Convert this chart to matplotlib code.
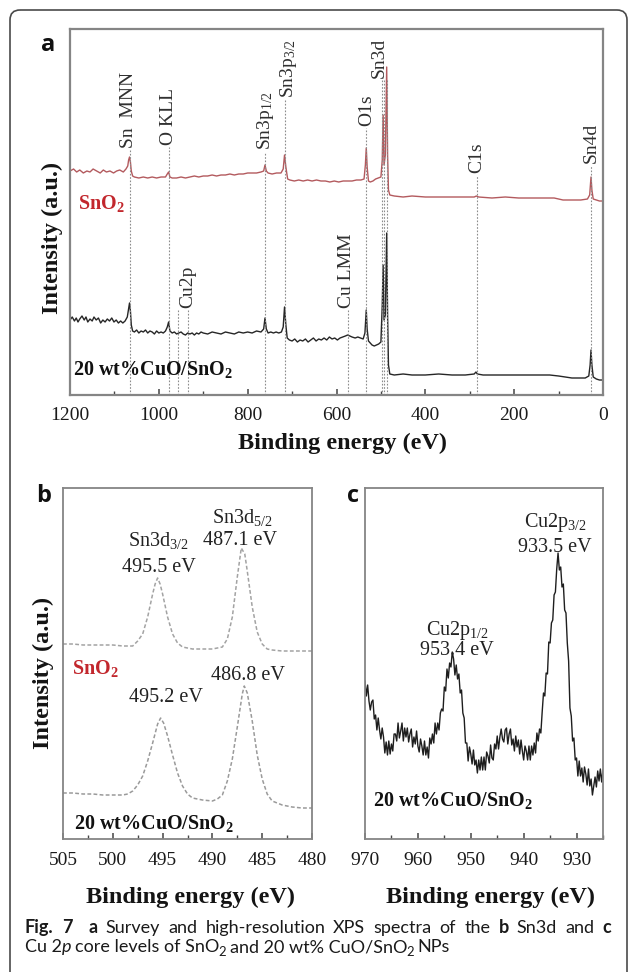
import numpy as np
import matplotlib
matplotlib.use("Agg")
import matplotlib.pyplot as plt
from matplotlib.patches import FancyBboxPatch
from matplotlib.ticker import MultipleLocator

plt.rcParams["font.family"] = ["Liberation Serif", "DejaVu Serif"]
plt.rcParams["mathtext.fontset"] = "custom"
plt.rcParams["mathtext.rm"] = "Liberation Serif"
plt.rcParams["mathtext.it"] = "Liberation Serif:italic"
plt.rcParams["mathtext.bf"] = "Liberation Serif:bold"

# ---------------- survey spectra (panel a) ----------------
survey_e_sno2 = [1200, 1192, 1185, 1178, 1170, 1162, 1155, 1148, 1140, 1132, 1125, 1118, 1110,
                 1102, 1095, 1088, 1080, 1074, 1070, 1068, 1066, 1064, 1062, 1059, 1055, 1045,
                 1035, 1025, 1015, 1005, 995, 985, 981, 978, 975, 970, 960, 950, 940, 930, 920,
                 910, 900, 890, 880, 870, 860, 850, 840, 830, 820, 810, 800, 790, 780, 770, 764,
                 761, 758, 754, 745, 735, 725, 720, 717, 714, 710, 705, 695, 685, 675, 665, 655,
                 645, 635, 625, 615, 605, 595, 585, 575, 565, 555, 545, 538, 535, 533, 531, 528,
                 524, 518, 512, 506, 500, 497, 495, 493, 490, 487, 485, 483, 480, 470, 450, 430,
                 400, 370, 340, 310, 290, 285, 280, 250, 220, 190, 160, 130, 110, 100, 90, 70,
                 50, 35, 30, 27, 25, 22, 15, 8, 0]
survey_i_sno2 = [224, 226, 223, 225, 222, 224, 223, 226, 224, 222, 225, 223, 224,
                 222, 224, 225, 223, 226, 229, 235, 238, 233, 224, 219, 218, 217,
                 218, 217, 218, 217, 218, 218, 221, 223, 218, 217, 217, 218, 217, 218, 219,
                 218, 219, 219, 220, 219, 220, 220, 221, 220, 221, 221, 222, 222, 222, 223, 224,
                 230, 224, 222, 221, 222, 222, 226, 240, 228, 216, 215, 214, 215, 214, 215, 214,
                 215, 214, 214, 213, 214, 213, 214, 214, 214, 215, 215, 216, 230, 247, 228, 214,
                 213, 214, 216, 217, 218, 235, 280, 230, 240, 328, 240, 205, 200, 199, 198, 199,
                 198, 198, 198, 198, 198, 199, 198, 197, 198, 197, 197, 197, 197, 196, 195, 195,
                 195, 196, 200, 218, 205, 196, 195, 194, 194]

survey_e_cuo = [1200, 1195, 1190, 1186, 1182, 1178, 1173, 1168, 1164, 1160, 1155, 1150, 1146,
                1141, 1136, 1131, 1126, 1121, 1116, 1111, 1106, 1101, 1096, 1091, 1086, 1081,
                1076, 1071, 1068, 1066, 1064, 1062, 1059, 1055, 1050, 1045, 1040, 1035, 1030,
                1025, 1020, 1015, 1010, 1005, 1000, 995, 990, 985, 981, 978, 975, 970, 965, 960,
                955, 950, 945, 940, 935, 930, 925, 920, 915, 910, 905, 900, 890, 880, 870, 860,
                850, 840, 830, 820, 810, 800, 790, 780, 770, 764, 761, 758, 754, 748, 742, 736,
                730, 724, 720, 717, 714, 711, 706, 700, 694, 688, 682, 676, 670, 664, 658, 652,
                646, 640, 634, 628, 622, 616, 610, 604, 598, 592, 586, 580, 575, 570, 565, 558,
                552, 546, 540, 536, 533, 531, 528, 524, 520, 515, 510, 505, 500, 497, 495, 493,
                490, 487, 485, 483, 480, 470, 450, 430, 400, 370, 340, 310, 290, 286, 283, 270,
                240, 210, 180, 150, 120, 100, 85, 70, 55, 40, 32, 29, 27, 25, 22, 15, 8, 0]
survey_i_cuo = [75, 78, 74, 77, 73, 76, 79, 75, 78, 73, 76, 74, 78,
                75, 77, 72, 75, 73, 76, 74, 77, 73, 75, 72, 74, 72,
                74, 78, 86, 92, 84, 70, 64, 63, 65, 62, 64, 63, 65,
                62, 64, 63, 61, 64, 62, 63, 62, 64, 68, 73, 64, 62, 63, 61,
                62, 63, 61, 60, 62, 61, 62, 60, 62, 61, 63, 62, 61, 63, 62, 61,
                63, 62, 61, 63, 62, 63, 62, 64, 63, 66, 77, 66, 62, 63, 62, 63,
                62, 63, 68, 88, 70, 57, 55, 54, 56, 53, 55, 54, 56, 53, 55, 57,
                54, 56, 55, 57, 55, 58, 56, 57, 55, 57, 58, 59, 60, 59, 58, 57,
                58, 57, 56, 62, 85, 66, 54, 52, 50, 49, 50, 51, 53, 90, 130, 75,
                80, 162, 80, 30, 21, 20, 21, 20, 20, 21, 20, 20, 21, 23, 21, 20,
                20, 20, 20, 20, 20, 19, 18, 17, 17, 17, 19, 30, 45, 30, 18, 16, 15, 15]

# peak assignments: label, label energy, label bottom (intensity units)
peak_names = ["Sn  MNN", "O KLL", r"Sn3p$_{1/2}$", r"Sn3p$_{3/2}$", "O1s", "Sn3d",
              "C1s", "Sn4d", "Cu2p", "Cu LMM"]
peak_label_e = [1068, 978, 760, 708, 533, 503, 284, 26, 934, 577]
peak_label_i = [245, 248, 243, 295, 267, 315, 220, 230, 85, 85]
guide_e = [1066, 978, 957, 934, 760, 716, 573, 533, 498, 492, 487, 284, 26]
guide_top = [245, 248, 85, 85, 243, 295, 85, 267, 315, 315, 315, 220, 230]

# ---------------- Sn3d region (panel b) ----------------
sn3d_e = [505, 504, 503, 502, 501, 500, 499, 498, 497.5, 497, 496.5, 496, 495.75, 495.5,
          495.25, 495, 494.5, 494, 493.5, 493, 492, 491, 490, 489, 488.5, 488, 487.5, 487.1,
          486.75, 486.5, 486, 485.5, 485, 484.5, 484, 483, 482, 481, 480]
sn3d_sno2 = [195, 195, 194, 194, 194, 194, 193, 193, 198, 205, 222, 245, 255, 261,
             255, 245, 222, 205, 196, 192, 190, 190, 190, 192, 200, 222, 262, 291,
             285, 268, 232, 207, 195, 190, 189, 188, 188, 188, 188]
sn3d_e_cuo = [505, 504, 503, 502, 501, 500, 499, 498.5, 498, 497.5, 497, 496.5, 496, 495.5,
              495.2, 494.9, 494.5, 494, 493.5, 493, 492.5, 492, 491, 490, 489.5, 489, 488.5,
              488, 487.5, 487, 486.8, 486.5, 486, 485.5, 485, 484.5, 484, 483, 482, 481, 480]
sn3d_cuo = [46, 46, 45, 45, 44, 44, 44, 45, 48, 54, 63, 78, 96, 115,
            121, 116, 103, 84, 66, 53, 45, 41, 39, 38, 40, 44, 58,
            80, 112, 145, 153, 146, 118, 84, 60, 45, 38, 34, 32, 31, 31]

# ---------------- Cu2p region (panel c) ----------------
cu2p_e = np.linspace(970, 925, 181)
cu2p_i = [158, 143, 154, 138, 129, 137, 139, 120, 124, 109, 121, 109, 100, 111, 102, 86, 97, 84,
          98, 85, 95, 88, 105, 105, 98, 116, 101, 108, 116, 98, 111, 102, 111, 97, 105, 110,
          92, 102, 95, 108, 93, 87, 100, 93, 84, 98, 84, 92, 81, 101, 95, 105, 96, 116,
          105, 116, 109, 126, 130, 128, 152, 148, 170, 161, 176, 172, 187, 180, 164, 174, 160, 165,
          146, 149, 126, 121, 96, 96, 78, 92, 85, 75, 89, 74, 79, 66, 79, 69, 82, 69,
          82, 69, 87, 83, 76, 94, 81, 79, 95, 90, 103, 90, 102, 110, 100, 97, 109, 111,
          95, 105, 110, 94, 100, 88, 103, 92, 99, 85, 99, 88, 79, 93, 88, 79, 93, 79,
          93, 84, 96, 86, 106, 98, 110, 106, 127, 146, 143, 166, 165, 197, 196, 216, 219, 244,
          247, 270, 286, 269, 272, 252, 255, 229, 226, 196, 178, 131, 123, 98, 101, 79, 81, 63,
          78, 63, 71, 57, 72, 65, 54, 70, 53, 60, 44, 53, 62, 52, 68, 58, 70, 57, 69]

survey_ticks = [1200, 1000, 800, 600, 400, 200, 0]
sn3d_ticks = [505, 500, 495, 490, 485, 480]
cu2p_ticks = [970, 960, 950, 940, 930]

RED_LINE = "#b35a5e"
RED_TEXT = "#c2272d"
DARK = "#262626"
GUIDE = "#8c8c8c"
FRAME = "#858585"

W, H = 630, 972
fig = plt.figure(figsize=(W / 100, H / 100), dpi=100)


def box(l, t, r, b):
    return [l / W, 1 - b / H, (r - l) / W, (b - t) / H]


def style_axes(ax, lw):
    for s in ax.spines.values():
        s.set_color(FRAME)
        s.set_linewidth(lw)
    ax.set_yticks([])
    ax.tick_params(axis="x", which="both", direction="in", top=False, color="#444444",
                   labelsize=14, pad=9, labelcolor="#1a1a1a")
    ax.tick_params(axis="x", which="major", length=4, width=1.1)
    ax.tick_params(axis="x", which="minor", length=3, width=1.0)


# panel a
axA = fig.add_axes(box(70, 29, 603, 395))
axA.plot(survey_e_sno2, survey_i_sno2, color=RED_LINE, lw=1.0)
axA.plot(survey_e_cuo, survey_i_cuo, color=DARK, lw=1.0)
axA.vlines(guide_e, 0, guide_top, colors=GUIDE, lw=0.8, linestyles=(0, (1.5, 1.5)))
for name, e, i in zip(peak_names, peak_label_e, peak_label_i):
    axA.text(e, i + 2, name, rotation=90, ha="center", va="bottom", fontsize=14, color="#303030")
axA.text(1181, 192, r"SnO$_\mathbf{2}$", color=RED_TEXT, fontsize=14.5, fontweight="bold",
         ha="left", va="center")
axA.text(1193, 25, r"20 wt%CuO/SnO$_\mathbf{2}$", color="#111111", fontsize=14.5,
         fontweight="bold", ha="left", va="center")
axA.set_xlim(1200, 0)
axA.set_ylim(0, 366)
axA.set_xticks(survey_ticks)
axA.xaxis.set_minor_locator(MultipleLocator(100))
style_axes(axA, 1.6)

# panel b
axB = fig.add_axes(box(63, 488, 312, 839))
dash = (0, (2.5, 1.5))
axB.plot(sn3d_e, sn3d_sno2, color="#a3a3a3", lw=1.1, linestyle=dash)
axB.plot(sn3d_e_cuo, sn3d_cuo, color="#9a9a9a", lw=1.1, linestyle=dash)
axB.text(495.4, 299, r"Sn3d$_{3/2}$", ha="center", va="center", fontsize=14.5, color="#222222")
axB.text(495.4, 272, "495.5 eV", ha="center", va="center", fontsize=14.5, color="#222222")
axB.text(487.0, 322, r"Sn3d$_{5/2}$", ha="center", va="center", fontsize=14.5, color="#222222")
axB.text(487.2, 299, "487.1 eV", ha="center", va="center", fontsize=14.5, color="#222222")
axB.text(486.4, 164, "486.8 eV", ha="center", va="center", fontsize=14.5, color="#222222")
axB.text(494.7, 142, "495.2 eV", ha="center", va="center", fontsize=14.5, color="#222222")
axB.text(504.1, 171, r"SnO$_\mathbf{2}$", color=RED_TEXT, fontsize=14.5, fontweight="bold",
         ha="left", va="center")
axB.text(503.9, 16, r"20 wt%CuO/SnO$_\mathbf{2}$", color="#111111", fontsize=14.5,
         fontweight="bold", ha="left", va="center")
axB.set_xlim(505, 480)
axB.set_ylim(0, 351)
axB.set_xticks(sn3d_ticks)
axB.xaxis.set_minor_locator(MultipleLocator(2.5))
style_axes(axB, 1.3)

# panel c
axC = fig.add_axes(box(365, 488, 603, 839))
axC.plot(cu2p_e, cu2p_i, color="#1e1e1e", lw=1.0)
axC.text(952.6, 209, r"Cu2p$_{1/2}$", ha="center", va="center", fontsize=14.5, color="#222222")
axC.text(952.6, 189, "953.4 eV", ha="center", va="center", fontsize=14.5, color="#222222")
axC.text(933.9, 317, r"Cu2p$_{3/2}$", ha="center", va="center", fontsize=14.5, color="#222222")
axC.text(934.2, 292, "933.5 eV", ha="center", va="center", fontsize=14.5, color="#222222")
axC.text(968.5, 39, r"20 wt%CuO/SnO$_\mathbf{2}$", color="#111111", fontsize=14.5,
         fontweight="bold", ha="left", va="center")
axC.set_xlim(970, 925)
axC.set_ylim(0, 351)
axC.set_xticks(cu2p_ticks)
axC.xaxis.set_minor_locator(MultipleLocator(5))
style_axes(axC, 1.3)

# overlay in pixel units for the frame, axis titles and caption
ov = fig.add_axes([0, 0, 1, 1])
ov.set_xlim(0, W)
ov.set_ylim(H, 0)
ov.axis("off")
ov.set_zorder(10)
ov.patch.set_visible(False)

ov.add_patch(FancyBboxPatch((10, 10), 617, 980, boxstyle="round,pad=0,rounding_size=10",
                            fc="none", ec="#4a4a4a", lw=1.2))

lab = dict(fontsize=17.5, fontweight="bold", color="#141414", ha="center", va="center")
ov.text(342, 443, "Binding energy (eV)", **lab)
ov.text(191, 897, "Binding energy (eV)", **lab)
ov.text(490, 897, "Binding energy (eV)", **lab)
ov.text(52, 238, "Intensity (a.u.)", rotation=90, **lab)
ov.text(43, 673, "Intensity (a.u.)", rotation=90, **lab)

letter = dict(family=["Open Sans", "DejaVu Sans"], fontsize=17, fontweight="bold",
              color="#111111", ha="center", va="center")
ov.text(48, 45, "a", **letter)
ov.text(44, 496, "b", **letter)
ov.text(353, 496, "c", **letter)

renderer = fig.canvas.get_renderer()
CAP = ["Lato", "DejaVu Sans"]
CS = 13


def caption_words(x0, y, words, right=None, space=3.4):
    """Place caption words; each word is (text, weight, style, gap_units, subscript).
    When `right` is given the line is justified to end at that x."""
    items = []
    for txt, weight, style, units, sub in words:
        fs = CS * (0.72 if sub else 1.0)
        t = ov.text(0, y + (3.5 if sub else 0), txt, family=CAP, fontsize=fs,
                    fontweight=weight, fontstyle=style, ha="left", va="baseline",
                    color="#1a1a1a")
        w = t.get_window_extent(renderer=renderer).width
        items.append((t, w, units))
    if right is not None:
        total_units = sum(u for _, _, u in items)
        natural = sum(w for _, w, _ in items)
        space = (right - x0 - natural) / total_units
    x = x0
    for t, w, units in items:
        x += units * space
        t.set_x(x)
        x += w


caption_words(25, 933, [("Fig.", "bold", "normal", 0, False),
                        ("7", "bold", "normal", 1, False),
                        ("a", "bold", "normal", 2, False),
                        ("Survey", "normal", "normal", 1, False),
                        ("and", "normal", "normal", 1, False),
                        ("high-resolution", "normal", "normal", 1, False),
                        ("XPS", "normal", "normal", 1, False),
                        ("spectra", "normal", "normal", 1, False),
                        ("of", "normal", "normal", 1, False),
                        ("the", "normal", "normal", 1, False),
                        ("b", "bold", "normal", 1, False),
                        ("Sn3d", "normal", "normal", 1, False),
                        ("and", "normal", "normal", 1, False),
                        ("c", "bold", "normal", 1, False)], right=611)
caption_words(25, 952, [("Cu 2", "normal", "normal", 0, False),
                        ("p", "normal", "italic", 0, False),
                        ("core levels of SnO", "normal", "normal", 1, False),
                        ("2", "normal", "normal", -0.2, True),
                        ("and 20 wt% CuO/SnO", "normal", "normal", 1, False),
                        ("2", "normal", "normal", -0.2, True),
                        ("NPs", "normal", "normal", 1, False)])

fig.savefig("out.png", dpi=100)
